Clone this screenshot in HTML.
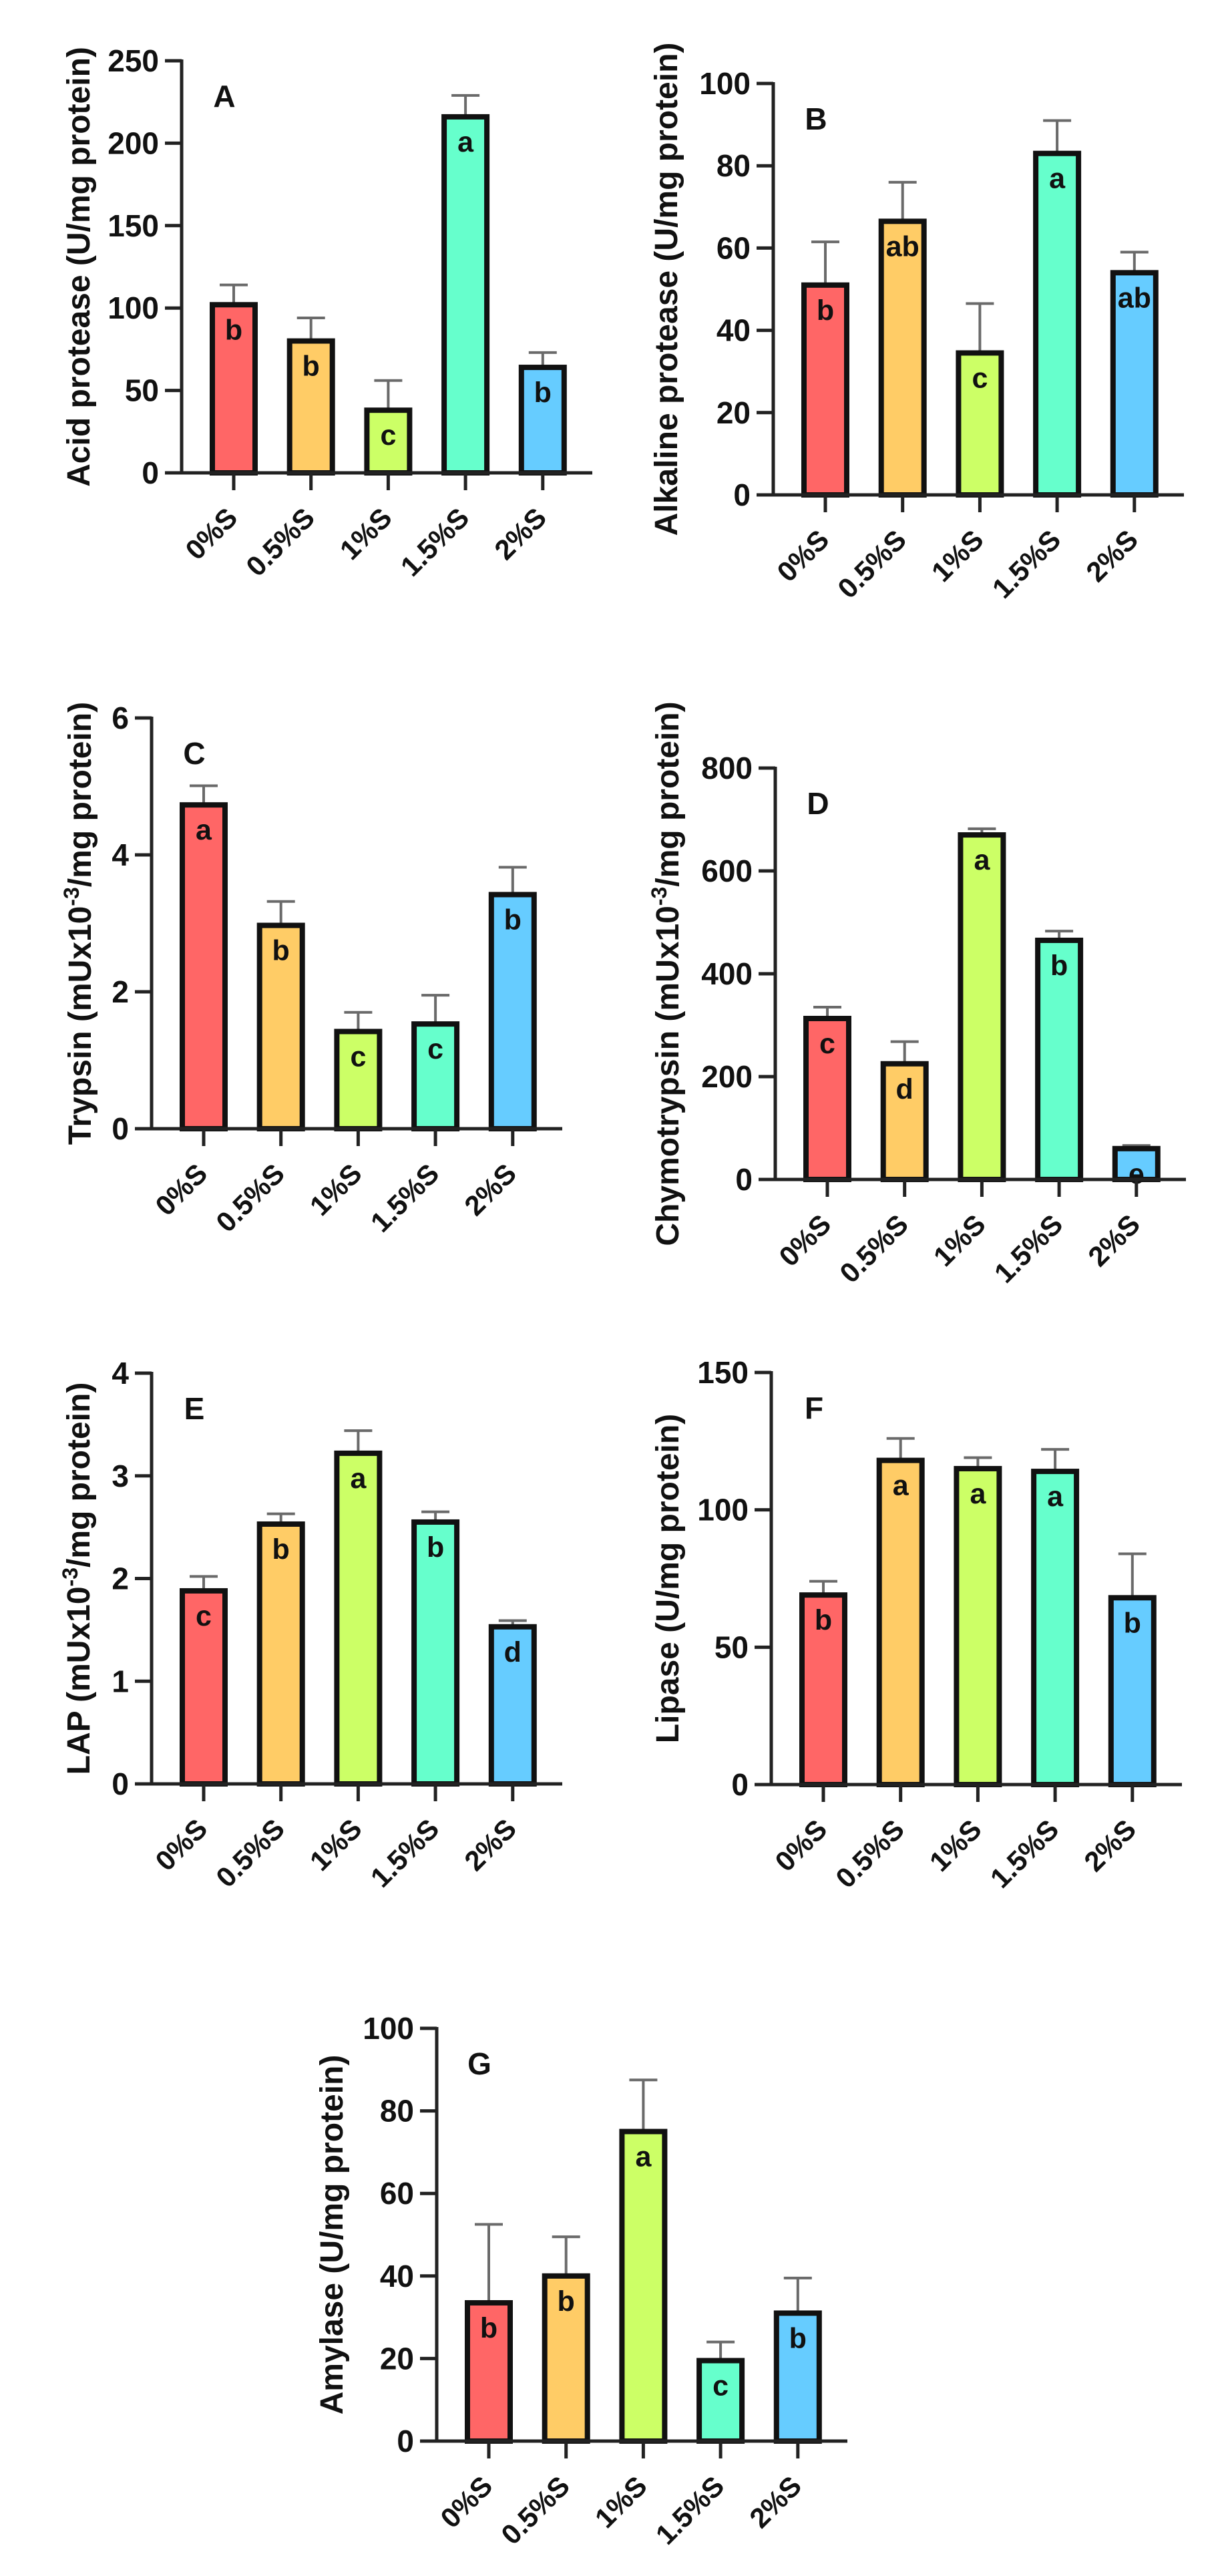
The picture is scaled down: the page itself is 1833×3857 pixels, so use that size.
<!DOCTYPE html>
<html><head><meta charset="utf-8">
<style>
html,body{margin:0;padding:0;background:#fff;}
svg{display:block;font-family:"Liberation Sans",Arial,sans-serif;font-weight:bold;}
</style></head>
<body>
<svg id="fig" width="1833" height="3857" viewBox="0 0 1833 3857" xmlns="http://www.w3.org/2000/svg"></svg>
<script>
const categories = ["0%S","0.5%S","1%S","1.5%S","2%S"];
const barColors = ["#FF6666","#FFCC66","#CCFF66","#66FFCC","#66CCFF"];

const acidVals = [102, 80, 38, 216, 64];
const acidErr = [12, 14, 18, 13, 9];
const acidLetters = ["b","b","c","a","b"];
const acidTicks = [0, 50, 100, 150, 200, 250];

const alkVals = [51, 66.5, 34.5, 83, 54];
const alkErr = [10.5, 9.5, 12, 8, 5];
const alkLetters = ["b","ab","c","a","ab"];
const alkTicks = [0, 20, 40, 60, 80, 100];

const trypVals = [4.73, 2.97, 1.42, 1.53, 3.42];
const trypErr = [0.28, 0.35, 0.28, 0.42, 0.4];
const trypLetters = ["a","b","c","c","b"];
const trypTicks = [0, 2, 4, 6];

const chymVals = [313, 225, 670, 465, 60];
const chymErr = [22, 43, 12, 18, 6];
const chymLetters = ["c","d","a","b","e"];
const chymTicks = [0, 200, 400, 600, 800];

const lapVals = [1.88, 2.53, 3.22, 2.55, 1.53];
const lapErr = [0.14, 0.1, 0.22, 0.1, 0.06];
const lapLetters = ["c","b","a","b","d"];
const lapTicks = [0, 1, 2, 3, 4];

const lipVals = [69, 118, 115, 114, 68];
const lipErr = [5, 8, 4, 8, 16];
const lipLetters = ["b","a","a","a","b"];
const lipTicks = [0, 50, 100, 150];

const amyVals = [33.5, 40, 75, 19.5, 31];
const amyErr = [19, 9.5, 12.5, 4.5, 8.5];
const amyLetters = ["b","b","a","c","b"];
const amyTicks = [0, 20, 40, 60, 80, 100];

const NS = "http://www.w3.org/2000/svg";
const svg = document.getElementById("fig");
function mk(tag, attrs, parent){
  const e = document.createElementNS(NS, tag);
  for (const k in attrs) e.setAttribute(k, attrs[k]);
  (parent||svg).appendChild(e);
  return e;
}

function panel(p){
  const g = mk("g", {});
  
  
  const W = 615, top = p.top, bot = p.bot, ax = p.ax;
  const ymax = p.ticks[p.ticks.length-1];
  const yS = v => bot - (v / ymax) * (bot - top);
  const xS = i => ax + 78 + i * 115.7;
  p.vals.forEach((v, i) => {
    const cx = xS(i), y = yS(v), yE = yS(v + p.err[i]);
    const eb = mk("line", {x1:cx, x2:cx, y1:yE, y2:y, stroke:"#6a6a6a", "stroke-width":4}, g);
    
    
    const cap = mk("line", {x1:cx-21, x2:cx+21, y1:yE, y2:yE, stroke:"#6a6a6a", "stroke-width":4}, g);
    
    
    const r = mk("rect", {x:cx-32, y:y, width:64, height:Math.max(0, bot - y), fill:barColors[i], stroke:"#111", "stroke-width":8}, g);
    
    
    const t = mk("text", {x:cx, y:y+52, "text-anchor":"middle", "font-size":43, fill:"#111"}, g);
    t.textContent = p.letters[i];
    
    
    const xt = mk("line", {x1:cx, x2:cx, y1:bot, y2:bot+26, stroke:"#222", "stroke-width":5}, g);
    
    
    const xl = mk("text", {x:cx+8, y:bot+70, "text-anchor":"end", "font-size":42, fill:"#111", transform:"rotate(-45 "+(cx+8)+" "+(bot+70)+")"}, g);
    xl.textContent = categories[i];
    
    
  });
  const ya = mk("line", {x1:ax, x2:ax, y1:top-2, y2:bot+2, stroke:"#222", "stroke-width":5}, g);
  
  
  const xa = mk("line", {x1:ax-25, x2:ax+W, y1:bot, y2:bot, stroke:"#222", "stroke-width":5}, g);
  
  
  p.ticks.forEach(tv => {
    const y = yS(tv);
    const tk = mk("line", {x1:ax-25, x2:ax, y1:y, y2:y, stroke:"#222", "stroke-width":5}, g);
    
    
    const tl = mk("text", {x:ax-34, y:y+16, "text-anchor":"end", "font-size":46, fill:"#111"}, g);
    tl.textContent = tv;
    
    
  });
  const pl = mk("text", {x:ax+64, y:top+69, "text-anchor":"middle", "font-size":46, fill:"#111"}, g);
  pl.textContent = p.label;
  
  
  const tx = p.titleX, ty = (top + bot) / 2;
  const yt = mk("text", {x:tx, y:ty, "text-anchor":"middle", "font-size":48, fill:"#111", transform:"rotate(-90 "+tx+" "+ty+")"}, g);
  
  
  if (p.sup) {
    const a = mk("tspan", {}, yt); a.textContent = p.title[0];
    const b = mk("tspan", {dy:-18, "font-size":32}, yt); b.textContent = "-3";
    const c = mk("tspan", {dy:18}, yt); c.textContent = p.title[1];
  } else {
    yt.textContent = p.title;
  }
}

panel({label:"A", ax:272, top:91, bot:708, titleX:134, vals:acidVals, err:acidErr, letters:acidLetters, ticks:acidTicks, title:"Acid protease (U/mg protein)"});
panel({label:"B", ax:1158, top:125, bot:741, titleX:1014, vals:alkVals, err:alkErr, letters:alkLetters, ticks:alkTicks, title:"Alkaline protease (U/mg protein)"});
panel({label:"C", ax:227, top:1075, bot:1690, titleX:136, vals:trypVals, err:trypErr, letters:trypLetters, ticks:trypTicks, sup:true, title:["Trypsin (mUx10","/mg protein)"]});
panel({label:"D", ax:1161, top:1150, bot:1766, titleX:1016, vals:chymVals, err:chymErr, letters:chymLetters, ticks:chymTicks, sup:true, title:["Chymotrypsin (mUx10","/mg protein)"]});
panel({label:"E", ax:227, top:2056, bot:2671, titleX:134, vals:lapVals, err:lapErr, letters:lapLetters, ticks:lapTicks, sup:true, title:["LAP (mUx10","/mg protein)"]});
panel({label:"F", ax:1155, top:2055, bot:2672, titleX:1016, vals:lipVals, err:lipErr, letters:lipLetters, ticks:lipTicks, title:"Lipase (U/mg protein)"});
panel({label:"G", ax:654, top:3037, bot:3655, titleX:513, vals:amyVals, err:amyErr, letters:amyLetters, ticks:amyTicks, title:"Amylase (U/mg protein)"});
</script>
</body></html>
